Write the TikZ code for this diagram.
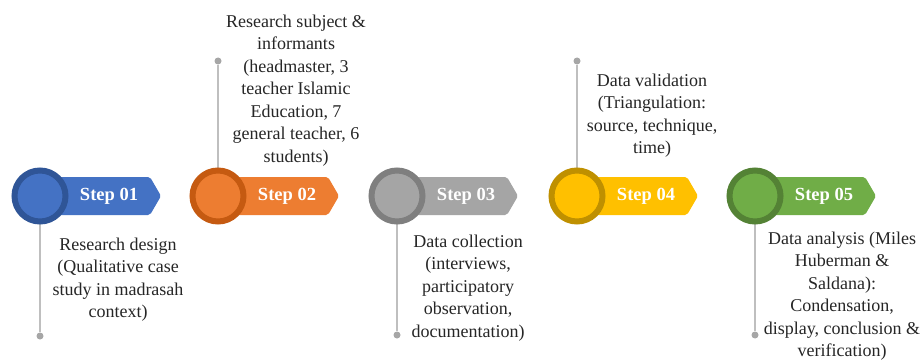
\documentclass[tikz,border=0pt]{standalone}
\usepackage{fontspec}
\setmainfont{Liberation Serif}
\usetikzlibrary{backgrounds}
\definecolor{txt}{HTML}{262626}
\definecolor{stemline}{HTML}{BFBFBF}
\definecolor{stemdot}{HTML}{A6A6A6}
\definecolor{blueA}{HTML}{4472C4}\definecolor{blueB}{HTML}{2F5597}
\definecolor{orangeA}{HTML}{ED7D31}\definecolor{orangeB}{HTML}{C55A11}
\definecolor{grayA}{HTML}{A5A5A5}\definecolor{grayB}{HTML}{7F7F7F}
\definecolor{goldA}{HTML}{FFC000}\definecolor{goldB}{HTML}{BF9000}
\definecolor{greenA}{HTML}{70AD47}\definecolor{greenB}{HTML}{548235}
\tikzset{
  ringnode/.style={circle, inner sep=0pt, minimum size=51pt, line width=6pt},
  steplabel/.style={text=white, inner sep=0pt, font=\bfseries\fontsize{18.5}{22}\selectfont},
  desc/.style={text=txt, align=center, inner sep=0pt, anchor=north,
    font=\fontsize{18}{22.5}\selectfont},
  stemdotnode/.style={circle, fill=stemdot, inner sep=0pt, minimum size=7pt},
  stem/.style={draw=stemline, line width=2pt},
}
% one step: band with pointed end, ring, label
\newcommand{\stepitem}[5]{% #1 name, #2 x, #3 fill, #4 ring, #5 label
  \fill[#3, rounded corners=2pt] (#2,177) -- (#2+110,177) -- (#2+121,196)
     -- (#2+110,215) -- (#2,215) -- cycle;
  \node[ringnode, fill=#3, draw=#4] (c#1) at (#2,196) {};
  \node[steplabel] (l#1) at (#2+69,196) {#5};
}
\begin{document}
\begin{tikzpicture}[x=1pt, y=-1pt]
  \useasboundingbox (0,0) rectangle (920,361);

  \stepitem{1}{40}{blueA}{blueB}{Step 01}
  \stepitem{2}{218}{orangeA}{orangeB}{Step 02}
  \stepitem{3}{397}{grayA}{grayB}{Step 03}
  \stepitem{4}{577}{goldA}{goldB}{Step 04}
  \stepitem{5}{755}{greenA}{greenB}{Step 05}

  \node[stemdotnode] (d1) at (40,336) {};
  \node[stemdotnode] (d2) at (218,61) {};
  \node[stemdotnode] (d3) at (397,335) {};
  \node[stemdotnode] (d4) at (577,61) {};
  \node[stemdotnode] (d5) at (755,335) {};

  \begin{scope}[on background layer]
    \fill[white] (0,0) rectangle (920,361);
    \draw[stem] (c1.center) -- (d1);
    \draw[stem] (c2.center) -- (d2);
    \draw[stem] (c3.center) -- (d3);
    \draw[stem] (c4.center) -- (d4);
    \draw[stem] (c5.center) -- (d5);
  \end{scope}

  \node[desc] (t1) at (118,237.5) {Research design\\(Qualitative case\\study in madrasah\\context)};
  \node[desc] (t2) at (296,14.5) {Research subject \&\\informants\\(headmaster, 3\\teacher Islamic\\Education, 7\\general teacher, 6\\students)};
  \node[desc] (t3) at (468,234.5) {Data collection\\(interviews,\\participatory\\observation,\\documentation)};
  \node[desc] (t4) at (652,73.5) {Data validation\\(Triangulation:\\source, technique,\\time)};
  \node[desc] (t5) at (842,231.5) {Data analysis (Miles\\Huberman \&\\Saldana):\\Condensation,\\display, conclusion \&\\verification)};
\end{tikzpicture}
\end{document}
